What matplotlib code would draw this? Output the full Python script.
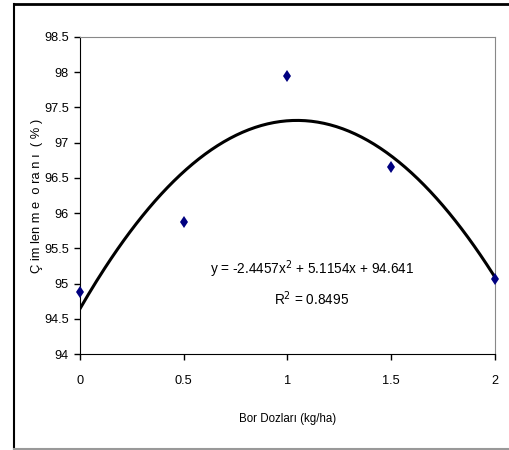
import numpy as np
import matplotlib
matplotlib.use('Agg')
import matplotlib.pyplot as plt
from matplotlib.lines import Line2D

plt.rcParams['font.family'] = ['Liberation Sans', 'DejaVu Sans']

# data
doses = [0, 0.5, 1, 1.5, 2]
germination = [94.88, 95.88, 97.95, 96.65, 95.06]
coef = [-2.4457, 5.1154, 94.641]
r2 = 0.8495

yticks = [94, 94.5, 95, 95.5, 96, 96.5, 97, 97.5, 98, 98.5]
xticks = [0, 0.5, 1, 1.5, 2]

fig = plt.figure(figsize=(5.09, 4.5), dpi=100)
ax = fig.add_axes([0.157, 0.2133, 0.8155, 0.7045])

xx = np.linspace(0, 2, 200)
ax.plot(xx, np.polyval(coef, xx), color='black', lw=2.2)
ax.plot(doses, germination, 'd', color='#000080', ms=6, mew=0, clip_on=False, zorder=5)

ax.set_xlim(0, 2)
ax.set_ylim(94, 98.5)
ax.set_xticks(xticks)
ax.set_xticklabels(['0', '0.5', '1', '1.5', '2'])
ax.set_yticks(yticks)
ax.set_yticklabels(['94', '94.5', '95', '95.5', '96', '96.5', '97', '97.5', '98', '98.5'])
ax.tick_params(labelsize=9.2, length=4, width=1, direction='out')
ax.tick_params(axis='x', pad=11)
ax.tick_params(axis='y', pad=4)
for s in ['top', 'right']:
    ax.spines[s].set_color('#888888')
for s in ['left', 'bottom']:
    ax.spines[s].set_color('black')

ax.text(1.118, 95.2, 'y = -2.4457x$^{2}$ + 5.1154x + 94.641', ha='center', va='center', fontsize=9.8)
ax.text(1.118, 94.78, 'R$^{2}$ = 0.8495', ha='center', va='center', fontsize=9.8)

ax.set_xlabel('Bor Dozları (kg/ha)', fontsize=8.3, labelpad=19)
ax.set_ylabel('Ç im len m e  o ra n ı  ( % )', fontsize=9.3, labelpad=1)

# outer frame
fig.add_artist(Line2D([14/509, 1], [1-4/450, 1-4/450], color='black', lw=2, transform=fig.transFigure))
fig.add_artist(Line2D([14/509, 14/509], [1-4/450, 1-449/450], color='black', lw=1.5, transform=fig.transFigure))
fig.add_artist(Line2D([14/509, 1], [1-449/450, 1-449/450], color='#999999', lw=1.5, transform=fig.transFigure))

fig.savefig('out.png', dpi=100)
